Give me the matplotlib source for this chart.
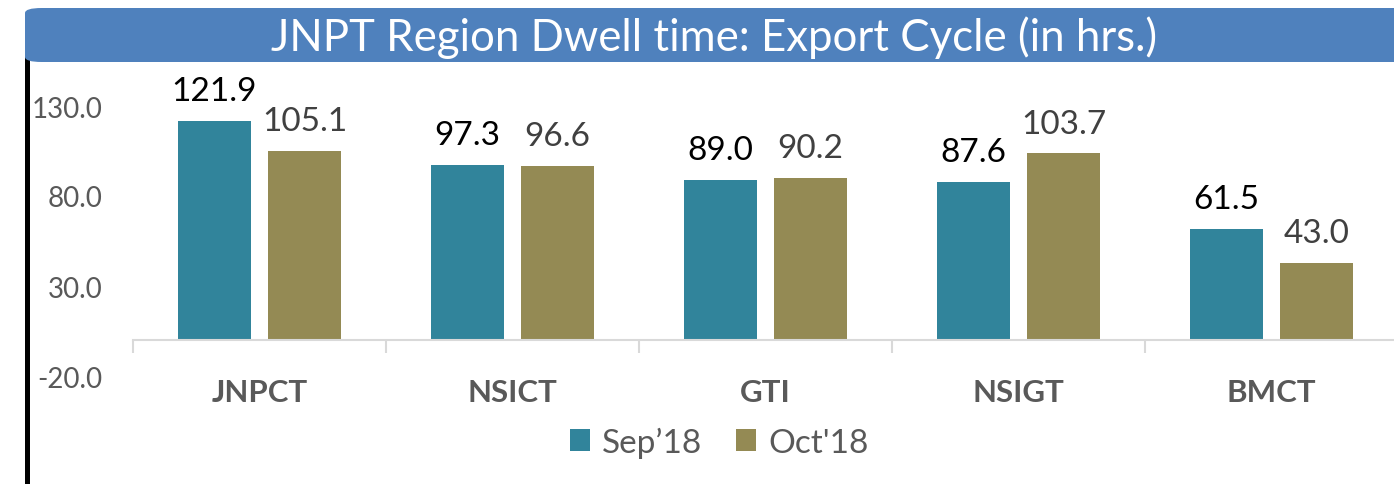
import matplotlib
matplotlib.use("Agg")
import matplotlib.pyplot as plt
from matplotlib.patches import FancyBboxPatch, Patch
from matplotlib.lines import Line2D
import numpy as np

categories = ["JNPCT", "NSICT", "GTI", "NSIGT", "BMCT"]
sep18 = [121.9, 97.3, 89.0, 87.6, 61.5]
oct18 = [105.1, 96.6, 90.2, 103.7, 43.0]
series_names = ["Sep\u201918", "Oct'18"]
yticks = [-20, 30, 80, 130]
title = "JNPT Region Dwell time: Export Cycle (in hrs.)"

C_SEP = "#31849B"
C_OCT = "#948A54"
GRAY = "#595959"
FONT = "Lato"

W, H = 1394, 485
fig = plt.figure(figsize=(W / 100, H / 100), dpi=100)

def fx(px):
    return px / W

def fy(py):
    return 1 - py / H

# axes: x from 133 px to ~1398 px, y from 107 (130) to 377 (-20)
ax = fig.add_axes([fx(133), fy(377), fx(1265), fy(107) - fy(377)])
x = np.arange(len(categories))
bw = 0.285
off = 0.178
b1 = ax.bar(x - off, sep18, bw, color=C_SEP, zorder=2)
b2 = ax.bar(x + off, oct18, bw, color=C_OCT, zorder=2)
ax.set_xlim(-0.5, len(categories) - 0.5)
ax.set_ylim(-20, 130)

for s in ["top", "right", "left"]:
    ax.spines[s].set_visible(False)
ax.spines["bottom"].set_position(("data", 0))
ax.spines["bottom"].set_color("#D9D9D9")
ax.spines["bottom"].set_linewidth(1.5)
ax.spines["bottom"].set_zorder(3)

ax.set_xticks(x)
ax.set_xticklabels(categories, fontsize=22.5, fontweight="bold", color=GRAY, family=FONT)
ax.set_xticks(np.arange(len(categories) + 1) - 0.5, minor=True)
ax.tick_params(axis="x", which="major", length=0, pad=27)
ax.tick_params(axis="x", which="minor", length=9, width=1.5, color="#D9D9D9", direction="out")

ax.set_yticks(yticks)
ax.set_yticklabels([f"{v:.1f}" for v in yticks], fontsize=20, color=GRAY, family=FONT)
ax.tick_params(axis="y", length=0, pad=22)

for rect, v in zip(b1, sep18):
    ax.annotate(f"{v:.1f}", (rect.get_x() + rect.get_width() / 2, v),
                xytext=(0, 15), textcoords="offset points", ha="center", va="baseline",
                fontsize=24, color="#000000", family=FONT, annotation_clip=False)
for rect, v in zip(b2, oct18):
    ax.annotate(f"{v:.1f}", (rect.get_x() + rect.get_width() / 2, v),
                xytext=(0, 15), textcoords="offset points", ha="center", va="baseline",
                fontsize=24, color="#404040", family=FONT, annotation_clip=False)

# left black vertical line
fig.add_artist(Line2D([fx(27), fx(27)], [fy(54), 0], color="black", lw=3.6,
                      transform=fig.transFigure, zorder=1))

# title banner
banner = FancyBboxPatch((fx(25), fy(63)), fx(1400), fy(9) - fy(63),
                        boxstyle="round,pad=0,rounding_size=0.012",
                        transform=fig.transFigure, facecolor="#4F81BD",
                        edgecolor="none", zorder=5, mutation_aspect=H / W * 2.5)
fig.add_artist(banner)
fig.text(fx(714), fy(38), title, ha="center", va="center", fontsize=31.5,
         color="white", family=FONT, zorder=6)

handles = [Patch(facecolor=C_SEP, edgecolor="none"), Patch(facecolor=C_OCT, edgecolor="none")]
fig.legend(handles, series_names, loc="center", bbox_to_anchor=(fx(719), fy(443)),
           ncol=2, frameon=False, prop={"family": FONT, "size": 24},
           labelcolor=GRAY, handlelength=0.62, handleheight=0.62,
           handletextpad=0.35, columnspacing=1.0)

fig.savefig("out.png", dpi=100)
